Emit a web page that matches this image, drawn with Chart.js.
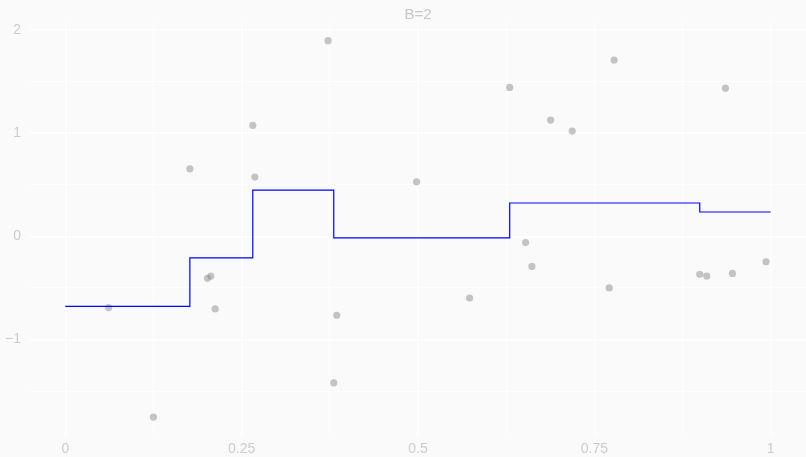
<!DOCTYPE html>
<html>
<head>
<meta charset="utf-8">
<script src="https://cdn.jsdelivr.net/npm/chart.js@4/dist/chart.umd.min.js"></script>
<style>
  html, body { margin: 0; padding: 0; background: #fafafa; }
  #wrap { width: 806px; height: 457px; }
</style>
</head>
<body>
<div id="wrap"><canvas id="c" width="806" height="457"></canvas></div>
<script>
// Observed sample points
const pointX = [0.0614, 0.125, 0.1766, 0.2016, 0.2063, 0.2125, 0.2658, 0.2687, 0.3725,
                0.3806, 0.3848, 0.498, 0.5732, 0.630, 0.6525, 0.6615, 0.688, 0.7186,
                0.771, 0.778, 0.8994, 0.9093, 0.9358, 0.9457, 0.9934];
const pointY = [-0.691, -1.751, 0.653, -0.408, -0.386, -0.704, 1.074, 0.573, 1.894,
                -1.420, -0.765, 0.527, -0.598, 1.441, -0.061, -0.292, 1.125, 1.019,
                -0.501, 1.707, -0.369, -0.386, 1.434, -0.360, -0.247];

// Piecewise-constant fit: break positions and the level that holds from each break on
const stepBreaks = [0, 0.1766, 0.2658, 0.3806, 0.630, 0.8994, 1.0];
const stepLevels = [-0.68, -0.209, 0.447, -0.016, 0.322, 0.235, 0.235];

// Axis ticks (labels on the major ones only)
const xTicks = [0, 0.125, 0.25, 0.375, 0.5, 0.625, 0.75, 0.875, 1];
const xTickLabels = ['0', '', '0.25', '', '0.5', '', '0.75', '', '1'];
const yTicks = [-1.5, -1, -0.5, 0, 0.5, 1, 1.5, 2];
const yTickLabels = ['', '\u22121', '', '0', '', '1', '', '2'];

const textColor = '#cccccc';

function gridStyle(labels) {
  return {
    color: '#ffffff',
    lineWidth: ctx => (labels[ctx.index] ? 1.4 : 0.7),
    drawTicks: false
  };
}

// each level is held until the next break (horizontal first, then vertical)
const fitPoints = stepBreaks.map((x, i) => ({ x: x, y: stepLevels[i] }));

new Chart(document.getElementById('c'), {
  data: {
    datasets: [
      {
        type: 'line',
        label: 'fit',
        data: fitPoints,
        stepped: 'before',
        borderColor: '#0000ff',
        borderWidth: 1.2,
        pointRadius: 0,
        fill: false,
        order: 0
      },
      {
        type: 'scatter',
        label: 'data',
        data: pointX.map((x, i) => ({ x: x, y: pointY[i] })),
        backgroundColor: 'rgba(128,128,128,0.45)',
        borderWidth: 0,
        pointRadius: 3.6,
        order: 1
      }
    ]
  },
  options: {
    responsive: false,
    animation: false,
    layout: { padding: 0, autoPadding: false },
    plugins: {
      legend: { display: false },
      tooltip: { enabled: false },
      title: {
        display: true,
        text: 'B=2',
        fullSize: false,
        color: '#c8c8c8',
        font: { family: 'Liberation Sans, Arial, sans-serif', size: 15, weight: 'normal', lineHeight: 1.133 },
        padding: { top: 6, bottom: -1 }
      }
    },
    scales: {
      x: {
        type: 'linear',
        min: -0.05,
        max: 1.05,
        border: { display: false },
        grid: gridStyle(xTickLabels),
        afterBuildTicks: s => { s.ticks = xTicks.map(v => ({ value: v })); },
        afterFit: s => { s.height = 22; },
        ticks: {
          autoSkip: false,
          maxRotation: 0,
          padding: 6,
          color: textColor,
          font: { family: 'Liberation Sans, Arial, sans-serif', size: 14 },
          callback: (v, i) => xTickLabels[i]
        }
      },
      y: {
        type: 'linear',
        min: -1.925,
        max: 2.075,
        border: { display: false },
        grid: gridStyle(yTickLabels),
        afterBuildTicks: s => { s.ticks = yTicks.map(v => ({ value: v })); },
        afterFit: s => { s.width = 30; },
        ticks: {
          autoSkip: false,
          padding: 9,
          color: textColor,
          font: { family: 'Liberation Sans, Arial, sans-serif', size: 14 },
          callback: (v, i) => yTickLabels[i]
        }
      }
    }
  }
});
</script>
</body>
</html>
